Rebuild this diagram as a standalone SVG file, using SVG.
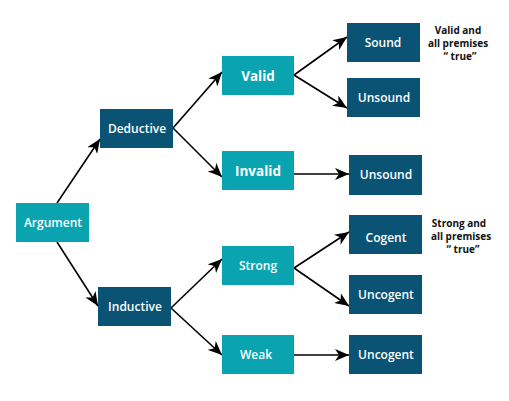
<svg xmlns="http://www.w3.org/2000/svg" width="509" height="401" viewBox="0 0 509 401">
<style>
.t{fill:#0aa3b0}
.d{fill:#0a5375}
.lbl{font-family:"Open Sans","Liberation Sans",sans-serif;font-size:12px;font-weight:600;fill:#fff;text-anchor:middle}
.big{font-size:13.5px;font-weight:700}
.note{font-family:"Open Sans","Liberation Sans",sans-serif;font-size:10px;font-weight:700;fill:#111;text-anchor:middle}
.c line{stroke:#000;stroke-width:1.6;marker-end:url(#ah)}
</style>
<defs>
<marker id="ah" markerUnits="userSpaceOnUse" markerWidth="14" markerHeight="12" refX="14" refY="6" orient="auto">
<path d="M0,0 L14,6 L0,12 L4,6 Z" fill="#000"/>
</marker>
</defs>
<rect width="509" height="401" fill="#fff"/>
<g class="c" id="connectors">
<line x1="57" y1="203" x2="100" y2="139"/>
<line x1="57" y1="242" x2="98" y2="306"/>
<line x1="173" y1="128" x2="222" y2="72"/>
<line x1="173" y1="128" x2="222" y2="177"/>
<line x1="294" y1="75" x2="347" y2="37"/>
<line x1="294" y1="75" x2="347" y2="108"/>
<line x1="294" y1="174" x2="349" y2="174"/>
<line x1="171" y1="308" x2="222" y2="259"/>
<line x1="171" y1="308" x2="222" y2="355"/>
<line x1="294" y1="268" x2="349" y2="232"/>
<line x1="294" y1="268" x2="349" y2="306"/>
<line x1="294" y1="355" x2="349" y2="355"/>
</g>
<g id="argument"><rect class="t" x="16" y="203" width="73" height="39"/><text class="lbl" x="53" y="227">Argument</text></g>
<g id="deductive"><rect class="d" x="100" y="109" width="73" height="39"/><text class="lbl" x="137" y="133">Deductive</text></g>
<g id="inductive"><rect class="d" x="98" y="287" width="73" height="39"/><text class="lbl" x="135" y="311">Inductive</text></g>
<g id="valid"><rect class="t" x="222" y="56" width="72" height="39"/><text class="lbl big" x="258" y="80.5">Valid</text></g>
<g id="invalid"><rect class="t" x="222" y="151" width="72" height="39"/><text class="lbl big" x="258" y="175.5">Invalid</text></g>
<g id="strong"><rect class="t" x="222" y="246" width="72" height="39"/><text class="lbl" x="258" y="270">Strong</text></g>
<g id="weak"><rect class="t" x="222" y="335" width="72" height="39"/><text class="lbl" x="256" y="359">Weak</text></g>
<g id="sound"><rect class="d" x="347" y="23" width="73" height="39"/><text class="lbl" x="383" y="47">Sound</text></g>
<g id="unsound1"><rect class="d" x="347" y="78" width="73" height="39"/><text class="lbl" x="384" y="102">Unsound</text></g>
<g id="unsound2"><rect class="d" x="349" y="155" width="73" height="40"/><text class="lbl" x="386" y="179">Unsound</text></g>
<g id="cogent"><rect class="d" x="349" y="215" width="73" height="39"/><text class="lbl" x="386" y="241.5">Cogent</text></g>
<g id="uncogent1"><rect class="d" x="349" y="275" width="73" height="39"/><text class="lbl" x="386" y="299">Uncogent</text></g>
<g id="uncogent2"><rect class="d" x="349" y="335" width="73" height="39"/><text class="lbl" x="386" y="359">Uncogent</text></g>
<g id="note-valid">
<text class="note" x="458" y="33.5">Valid and</text>
<text class="note" x="458" y="47">all premises</text>
<text class="note" x="460" y="60">“ true”</text>
</g>
<g id="note-strong">
<text class="note" x="459" y="226.5">Strong and</text>
<text class="note" x="461" y="240">all premises</text>
<text class="note" x="463" y="253">“ true”</text>
</g>
</svg>
